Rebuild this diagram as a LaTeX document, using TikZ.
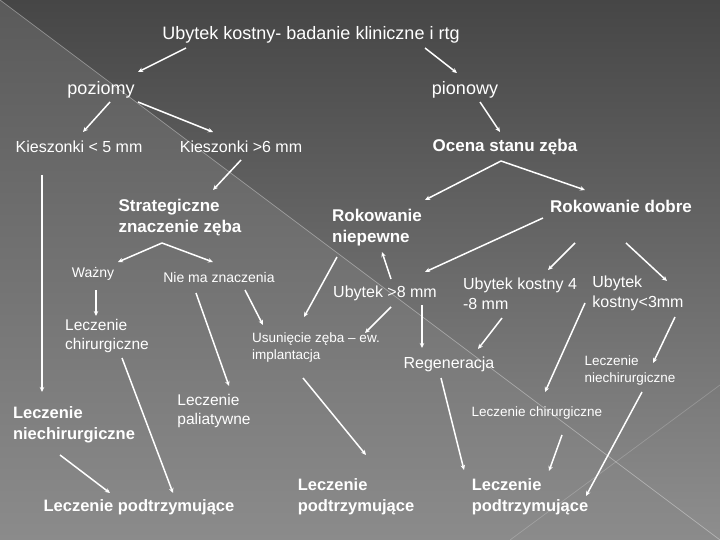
\documentclass[tikz,border=0pt]{standalone}
\usepackage{fontspec}
\setmainfont{Liberation Sans}
\usetikzlibrary{arrows.meta,calc}
\definecolor{bgtop}{HTML}{464646}
\definecolor{bgbot}{HTML}{8E8E8E}
\definecolor{tritop}{HTML}{5A5A5A}
\definecolor{tribot}{HTML}{8B8B8B}
\begin{document}
\begin{tikzpicture}[x=1pt,y=-1pt,
  every node/.style={text=white,inner sep=0pt,align=left},
  t18/.style={font=\fontsize{18}{21}\selectfont},
  tb17/.style={font=\fontsize{17}{21}\selectfont\bfseries},
  tb16/.style={font=\fontsize{16.5}{21}\selectfont\bfseries},
  t16/.style={font=\fontsize{16}{20}\selectfont},
  t15/.style={font=\fontsize{15.5}{18.5}\selectfont},
  t14/.style={font=\fontsize{14}{17}\selectfont},
  t13/.style={font=\fontsize{13.5}{17}\selectfont},
  arr/.style={draw=white,line width=1.5pt,-{Stealth[length=5pt,width=4.5pt]}}]

\useasboundingbox (0,0) rectangle (720,540);
\shade[top color=bgtop,bottom color=bgbot] (0,0) rectangle (720,540);
\shade[top color=tritop,bottom color=tribot] (0,0) -- (720,540) -- (0,540) -- cycle;
\draw[white,opacity=0.35,line width=0.7pt] (0,0) -- (720,540);
\draw[white,opacity=0.2,line width=0.7pt] (510,540) -- (720,385);

\node[t18] (title) at (311,35) {Ubytek kostny- badanie kliniczne i rtg};
\node[t18] (poz) at (101,90) {poziomy};
\node[t18] (pion) at (465,90) {pionowy};
\node[t16] (kies5) at (79,147) {Kieszonki < 5 mm};
\node[t16] (kies6) at (241,147) {Kieszonki >6 mm};
\node[tb17] (ocena) at (505,147) {Ocena stanu zęba};
\node[tb17] (strat) at (180,218) {Strategiczne\\znaczenie zęba};
\node[t14] (wazny) at (93,274) {Ważny};
\node[t14] (niema) at (219,277) {Nie ma znaczenia};
\node[t15] (lchir) at (107,336) {Leczenie\\chirurgiczne};
\node[t13] (usun) at (316,348) {Usunięcie zęba – ew.\\implantacja};
\node[tb17] (rniep) at (377,228) {Rokowanie\\niepewne};
\node[tb17] (rdobre) at (621,206) {Rokowanie dobre};
\node[t16] (ub8) at (385,293) {Ubytek >8 mm};
\node[t16] (ub48) at (520,294) {Ubytek kostny 4\\-8 mm};
\node[t16] (ub3) at (638,293) {Ubytek\\kostny<3mm};
\node[t16] (regen) at (449,364) {Regeneracja};
\node[t13] (lnchr) at (630,371) {Leczenie\\niechirurgiczne};
\node[t13] (lchirr) at (537,413) {Leczenie chirurgiczne};
\node[tb16] (lnchl) at (74,425) {Leczenie\\niechirurgiczne};
\node[t15] (lpal) at (214,411) {Leczenie\\paliatywne};
\node[tb16] (lpodl) at (139,507) {Leczenie podtrzymujące};
\node[tb16] (lpodm) at (356,497) {Leczenie\\podtrzymujące};
\node[tb16] (lpodr) at (530,497) {Leczenie\\podtrzymujące};

\draw[arr] ($(title)+(-125,13)$) -- ($(poz)+(37,-18)$);
\draw[arr] ($(title)+(114,13)$) -- ($(pion)+(-8,-17)$);
\draw[arr] ($(poz)+(9,12)$) -- ($(kies5)+(4,-15)$);
\draw[arr] ($(poz)+(37,12)$) -- ($(kies6)+(-28,-15)$);
\draw[arr] ($(pion)+(15,12)$) -- ($(ocena)+(-5,-15)$);
\draw[arr] ($(ocena)+(-4,14)$) -- ($(rniep)+(48,-28)$);
\draw[arr] ($(ocena)+(-4,14)$) -- ($(rdobre)+(-36,-16)$);
\draw[arr] ($(kies6)+(0,13)$) -- ($(strat)+(33,-28)$);
\draw[arr] ($(kies5)+(-37,28)$) -- ($(lnchl)+(-32,-33)$);
\draw[arr] ($(strat)+(-18,25)$) -- ($(wazny)+(25,-12)$);
\draw[arr] ($(strat)+(-18,25)$) -- ($(niema)+(-6,-15)$);
\draw[arr] ($(wazny)+(3,16)$) -- ($(lchir)+(-11,-20)$);
\draw[arr] ($(niema)+(26,13)$) -- ($(usun)+(-53,-23)$);
\draw[arr] ($(niema)+(-23,16)$) -- ($(lpal)+(15,-25)$);
\draw[arr] ($(lchir)+(15,22)$) -- ($(lpodl)+(34,-14)$);
\draw[arr] ($(lnchl)+(-14,30)$) -- ($(lpodl)+(-29,-14)$);
\draw[arr] ($(rniep)+(-40,29)$) -- ($(usun)+(-12,-31)$);
\draw[arr] ($(ub8)+(6,-14)$) -- ($(rniep)+(5,24)$);
\draw[arr] ($(rdobre)+(-78,12)$) -- ($(ub8)+(40,-21)$);
\draw[arr] ($(rdobre)+(-46,37)$) -- ($(ub48)+(28,-24)$);
\draw[arr] ($(rdobre)+(5,37)$) -- ($(ub3)+(29,-12)$);
\draw[arr] ($(ub8)+(6,14)$) -- ($(usun)+(49,-15)$);
\draw[arr] ($(ub8)+(37,12)$) -- ($(regen)+(-27,-16)$);
\draw[arr] ($(ub48)+(-18,24)$) -- ($(regen)+(29,-15)$);
\draw[arr] ($(ub3)+(37,24)$) -- ($(lnchr)+(23,-8)$);
\draw[arr] ($(ub48)+(65,9)$) -- ($(lchirr)+(8,-21)$);
\draw[arr] ($(usun)+(-13,30)$) -- ($(lpodm)+(10,-42)$);
\draw[arr] ($(regen)+(-8,14)$) -- ($(lpodr)+(-66,-27)$);
\draw[arr] ($(lchirr)+(25,22)$) -- ($(lpodr)+(19,-26)$);
\draw[arr] ($(lnchr)+(12,21)$) -- ($(lpodr)+(56,-1)$);
\end{tikzpicture}
\end{document}
